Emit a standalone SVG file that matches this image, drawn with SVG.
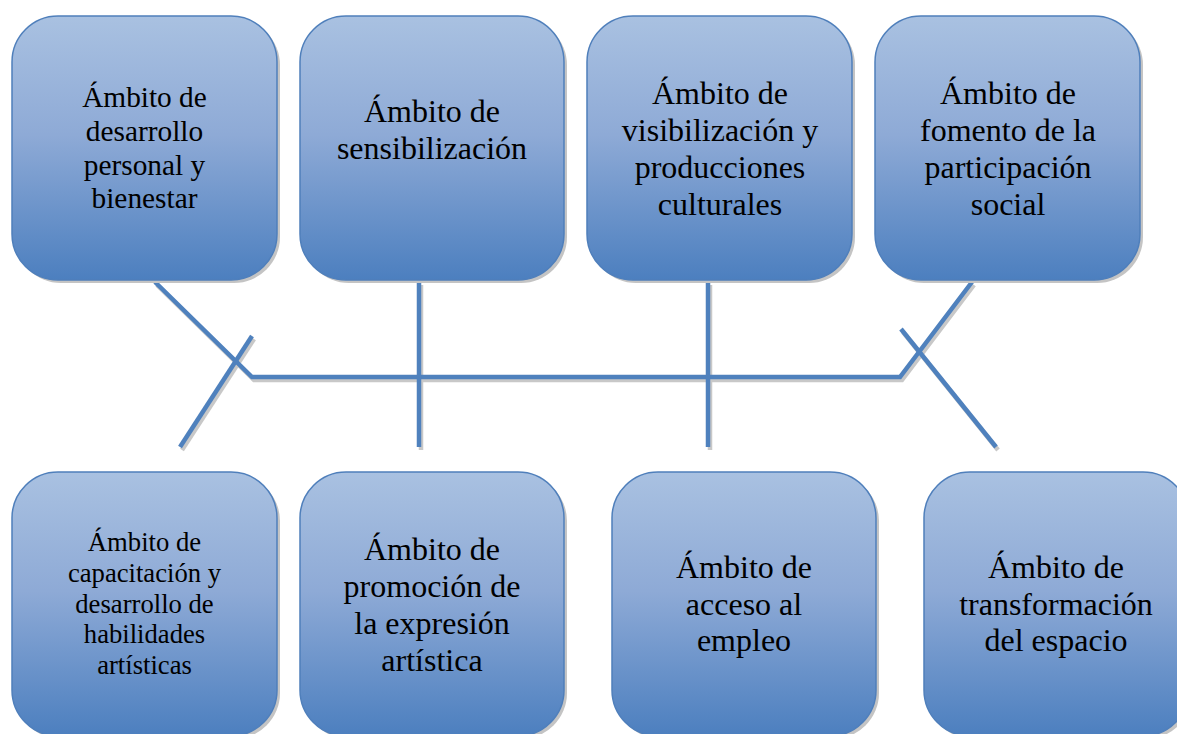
<svg xmlns="http://www.w3.org/2000/svg" width="1177" height="734" viewBox="0 0 1177 734">
<defs>
<linearGradient id="g" x1="0" y1="0" x2="0" y2="1">
<stop offset="0" stop-color="#a9c1e1"/>
<stop offset="0.45" stop-color="#8eaad6"/>
<stop offset="1" stop-color="#4c7fbf"/>
</linearGradient>
<style>
.box{fill:url(#g);stroke:#4f7fbb;stroke-width:1.5}
.sh{fill:#c4c4c4}
.t{font-family:"Liberation Serif","Times New Roman",serif;font-size:32px;fill:#000;text-anchor:middle}
.s22{font-size:29.33px}
.s20{font-size:26.67px}
.ln{fill:none;stroke:#4f81bd;stroke-width:4.5;stroke-linejoin:miter}
.lsh{fill:none;stroke:#c8c8c8;stroke-width:4.5}
</style>
</defs>
<rect width="1177" height="734" fill="#fff"/>
<g id="connectors">
<g transform="translate(2,3)">
<polyline class="lsh" points="155,282 252,377 900,377 972,282"/>
<line class="lsh" x1="252" y1="336" x2="180" y2="447"/>
<line class="lsh" x1="901" y1="329" x2="996" y2="447"/>
<line class="lsh" x1="419" y1="282" x2="419" y2="447"/>
<line class="lsh" x1="708" y1="282" x2="708" y2="447"/>
</g>
<polyline class="ln" points="155,282 252,377 900,377 972,282"/>
<line class="ln" x1="252" y1="336" x2="180" y2="447"/>
<line class="ln" x1="901" y1="329" x2="996" y2="447"/>
<line class="ln" x1="419" y1="282" x2="419" y2="447"/>
<line class="ln" x1="708" y1="282" x2="708" y2="447"/>
</g>
<g id="n1">
<rect class="sh" x="15" y="19" width="265" height="264" rx="46"/>
<rect class="box" x="12" y="16" width="265" height="264" rx="46"/>
<text class="t s22" x="144.5"><tspan x="144.5" y="107.1">Ámbito de</tspan><tspan x="144.5" y="140.8">desarrollo</tspan><tspan x="144.5" y="174.5">personal y</tspan><tspan x="144.5" y="208.2">bienestar</tspan></text>
</g>
<g id="n2">
<rect class="sh" x="303" y="19" width="264" height="264" rx="46"/>
<rect class="box" x="300" y="16" width="264" height="264" rx="46"/>
<text class="t" x="432"><tspan x="432" y="121.7">Ámbito de</tspan><tspan x="432" y="158.5">sensibilización</tspan></text>
</g>
<g id="n3">
<rect class="sh" x="590" y="19" width="265" height="264" rx="46"/>
<rect class="box" x="587" y="16" width="265" height="264" rx="46"/>
<text class="t" x="720"><tspan x="720" y="104.3">Ámbito de</tspan><tspan x="720" y="141.1">visibilización y</tspan><tspan x="720" y="177.9">producciones</tspan><tspan x="720" y="214.7">culturales</tspan></text>
</g>
<g id="n4">
<rect class="sh" x="878" y="19" width="265" height="264" rx="46"/>
<rect class="box" x="875" y="16" width="265" height="264" rx="46"/>
<text class="t" x="1008"><tspan x="1008" y="104.3">Ámbito de</tspan><tspan x="1008" y="141.1">fomento de la</tspan><tspan x="1008" y="177.9">participación</tspan><tspan x="1008" y="214.7">social</tspan></text>
</g>
<g id="n5">
<rect class="sh" x="15" y="475" width="265" height="264" rx="46"/>
<rect class="box" x="12" y="472" width="265" height="264" rx="46"/>
<text class="t s20" x="144.5"><tspan x="144.5" y="551.4">Ámbito de</tspan><tspan x="144.5" y="582.1">capacitación y</tspan><tspan x="144.5" y="612.8">desarrollo de</tspan><tspan x="144.5" y="643.4">habilidades</tspan><tspan x="144.5" y="674.1">artísticas</tspan></text>
</g>
<g id="n6">
<rect class="sh" x="303" y="475" width="264" height="264" rx="46"/>
<rect class="box" x="300" y="472" width="264" height="264" rx="46"/>
<text class="t" x="432"><tspan x="432" y="560.3">Ámbito de</tspan><tspan x="432" y="597.1">promoción de</tspan><tspan x="432" y="633.9">la expresión</tspan><tspan x="432" y="670.7">artística</tspan></text>
</g>
<g id="n7">
<rect class="sh" x="615" y="475" width="264" height="264" rx="46"/>
<rect class="box" x="612" y="472" width="264" height="264" rx="46"/>
<text class="t" x="744"><tspan x="744" y="577.7">Ámbito de</tspan><tspan x="744" y="614.5">acceso al</tspan><tspan x="744" y="651.3">empleo</tspan></text>
</g>
<g id="n8">
<rect class="sh" x="927" y="475" width="265" height="264" rx="46"/>
<rect class="box" x="924" y="472" width="265" height="264" rx="46"/>
<text class="t" x="1056"><tspan x="1056" y="577.7">Ámbito de</tspan><tspan x="1056" y="614.5">transformación</tspan><tspan x="1056" y="651.3">del espacio</tspan></text>
</g>
</svg>
